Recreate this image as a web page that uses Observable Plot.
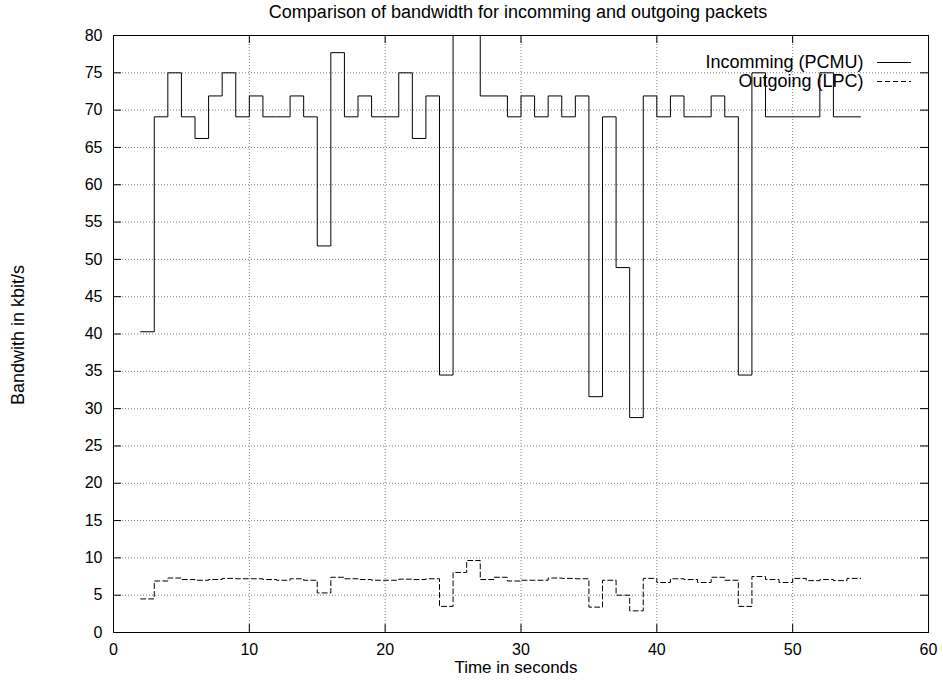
<!DOCTYPE html>
<html>
<head>
<meta charset="utf-8">
<script src="https://cdn.jsdelivr.net/npm/d3@7"></script>
<script src="https://cdn.jsdelivr.net/npm/@observablehq/plot@0.6"></script>
<style>
  html, body { margin: 0; padding: 0; background: #fff; }
  #chart svg { display: block; }
</style>
</head>
<body>
<div id="chart"></div>
<script>
// ---- Data ----
const titleText = "Comparison of bandwidth for incomming and outgoing packets";
const xLabel = "Time in seconds";
const yLabel = "Bandwith in kbit/s";
const seriesNames = ["Incomming (PCMU)", "Outgoing (LPC)"];

const times = [2, 3, 4, 5, 6, 7, 8, 9, 10, 11, 12, 13, 14, 15, 16, 17, 18, 19, 20, 21,
  22, 23, 24, 25, 26, 27, 28, 29, 30, 31, 32, 33, 34, 35, 36, 37, 38, 39, 40, 41,
  42, 43, 44, 45, 46, 47, 48, 49, 50, 51, 52, 53, 54, 55];

const incoming = [40.3, 69.1, 75.0, 69.1, 66.2, 71.9, 75.0, 69.1, 71.9, 69.1,
  69.1, 71.9, 69.1, 51.8, 77.7, 69.1, 71.9, 69.1, 69.1, 75.0,
  66.2, 71.9, 34.5, 84.0, 96.0, 71.9, 71.9, 69.1, 71.9, 69.1,
  71.9, 69.1, 71.9, 31.6, 69.1, 48.9, 28.8, 71.9, 69.1, 71.9,
  69.1, 69.1, 71.9, 69.1, 34.5, 75.0, 69.1, 69.1, 69.1, 69.1,
  75.0, 69.1, 69.1, 69.1];

const outgoing = [4.5, 6.9, 7.3, 7.1, 7.0, 7.1, 7.25, 7.2, 7.2, 7.1,
  7.0, 7.2, 7.0, 5.3, 7.4, 7.2, 7.1, 7.0, 7.0, 7.15,
  7.1, 7.2, 3.5, 8.05, 9.65, 7.1, 7.4, 6.9, 7.0, 7.0,
  7.3, 7.25, 7.2, 3.4, 7.0, 5.0, 2.9, 7.25, 6.7, 7.2,
  7.1, 6.7, 7.4, 7.0, 3.5, 7.5, 7.1, 6.7, 7.25, 6.95,
  7.1, 6.95, 7.25, 7.25];

const xTicks = [0, 10, 20, 30, 40, 50, 60];
const yTicks = [0, 5, 10, 15, 20, 25, 30, 35, 40, 45, 50, 55, 60, 65, 70, 75, 80];

// ---- Build tables ----
const inData = times.map((t, i) => ({t, v: incoming[i]}));
const outData = times.map((t, i) => ({t, v: outgoing[i]}));

const W = 943, H = 681;
const mL = 113, mR = 15, mT = 35, mB = 49;
const plotW = W - mL - mR, plotH = H - mT - mB;
const tickLen = 8;
const font = "'Liberation Sans', Arial, Helvetica, sans-serif";

const chart = Plot.plot({
  width: W,
  height: H,
  marginLeft: mL,
  marginRight: mR,
  marginTop: mT,
  marginBottom: mB,
  style: {fontFamily: font, fontSize: "16px", background: "#fff", color: "#000"},
  x: {domain: [0, 60], ticks: xTicks},
  y: {domain: [0, 80], ticks: yTicks},
  marks: [
    // dotted grid
    Plot.gridX(xTicks, {stroke: "#808080", strokeOpacity: 1, strokeDasharray: "1,2"}),
    Plot.gridY(yTicks, {stroke: "#808080", strokeOpacity: 1, strokeDasharray: "1,2"}),
    // inward ticks on all four sides
    Plot.tickX(xTicks, {x: d => d, insetTop: plotH - tickLen, stroke: "#000"}),
    Plot.tickX(xTicks, {x: d => d, insetBottom: plotH - tickLen, stroke: "#000"}),
    Plot.tickY(yTicks, {y: d => d, insetRight: plotW - tickLen, stroke: "#000"}),
    Plot.tickY(yTicks, {y: d => d, insetLeft: plotW - tickLen, stroke: "#000"}),
    // tick labels
    Plot.axisX(xTicks, {tickSize: 0, tickPadding: 11, label: null, fontSize: 16}),
    Plot.axisY(yTicks, {tickSize: 0, tickPadding: 11, label: null, fontSize: 16}),
    // data
    Plot.line(inData, {x: "t", y: "v", curve: "step-after", stroke: "#000", strokeWidth: 1, clip: true}),
    Plot.line(outData, {x: "t", y: "v", curve: "step-after", stroke: "#000", strokeWidth: 1, strokeDasharray: "5,3", clip: true}),
    // border
    Plot.frame({stroke: "#000", strokeWidth: 1}),
    // titles
    Plot.text([titleText], {frameAnchor: "top", dx: -3, dy: -23, lineAnchor: "middle", fontSize: 18}),
    Plot.text([xLabel], {frameAnchor: "bottom", dx: -5, dy: 35, lineAnchor: "middle", fontSize: 17}),
    Plot.text([yLabel], {frameAnchor: "left", dx: -95, dy: 1, rotate: -90, lineAnchor: "middle", textAnchor: "middle", fontSize: 18}),
    // legend labels
    Plot.text([seriesNames[0]], {frameAnchor: "top-right", dx: -65, dy: 27, textAnchor: "end", lineAnchor: "middle", fontSize: 18}),
    Plot.text([seriesNames[1]], {frameAnchor: "top-right", dx: -65, dy: 46, textAnchor: "end", lineAnchor: "middle", fontSize: 18})
  ]
});

// legend sample lines
const svg = d3.select(chart);
svg.append("line")
  .attr("x1", W - mR - 51).attr("x2", W - mR - 17)
  .attr("y1", mT + 27.5).attr("y2", mT + 27.5)
  .attr("stroke", "#000").attr("stroke-width", 1);
svg.append("line")
  .attr("x1", W - mR - 51).attr("x2", W - mR - 17)
  .attr("y1", mT + 46.5).attr("y2", mT + 46.5)
  .attr("stroke", "#000").attr("stroke-width", 1)
  .attr("stroke-dasharray", "5,3");

document.getElementById("chart").appendChild(chart);
</script>
</body>
</html>
